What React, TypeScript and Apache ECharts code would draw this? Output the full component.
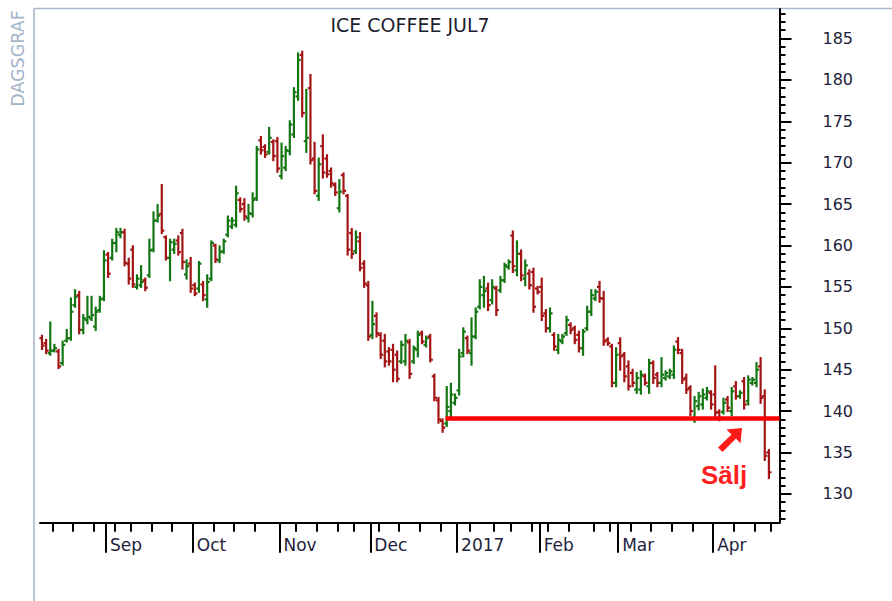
import React, { useEffect, useRef } from 'react';
import * as echarts from 'echarts';

// ---- Data (daily OHLC, ICE Coffee Jul7, Aug 2016 - Apr 2017) ----
const opens = [
  148.8, 148.2, 147.0, 147.3, 147.2, 145.8, 148.5, 148.8, 152.8, 154.0, 149.8, 151.0, 151.2, 150.2, 152.2, 153.6,
  158.9, 158.5, 160.3, 161.3, 161.6, 157.8, 159.5, 155.0, 155.2, 155.8, 156.4, 159.5, 163.0, 163.8, 161.0, 158.5, 159.5, 160.6, 161.5, 156.5, 157.8,
  155.2, 154.8, 155.3, 153.5, 156.0, 160.0, 158.2, 159.3, 161.3, 162.3, 162.5, 165.5, 165.0, 163.3, 163.8, 165.7, 172.7, 171.9, 171.3, 172.5, 172.6,
  168.4, 169.4, 171.4, 173.4, 178.0, 183.0, 172.6, 179.0, 170.5, 166.0, 172.0, 170.5, 169.0, 167.3, 164.5, 168.5, 166.0, 161.5, 159.3, 160.5, 157.8, 155.2,
  149.2, 151.5, 149.2, 148.5, 147.2, 147.4, 146.8, 146.0, 146.0, 148.3, 146.0, 147.4, 149.4, 148.0, 149.0, 144.2, 141.3, 138.8, 138.5, 140.0, 141.0,
  142.5, 147.0, 148.8, 147.0, 149.0, 152.6, 154.0, 154.8, 153.4, 154.8, 154.6, 155.8, 157.4, 161.2, 157.0, 159.0, 156.0, 156.6, 156.8, 154.8,
  155.0, 151.8, 150.0, 149.2, 147.4, 148.4, 149.4, 150.4, 150.0, 149.2, 147.6, 150.0, 152.0, 153.6, 155.0, 153.6, 148.6, 147.8, 143.4,
  148.2, 146.8, 145.4, 144.6, 142.6, 142.6, 144.2, 143.0, 145.8, 144.4, 143.4, 144.0, 144.2, 144.4, 148.4, 147.0, 144.0, 142.8, 139.2, 140.6, 140.8, 141.6, 142.2,
  142.0, 139.9, 139.9, 141.4, 140.0, 143.0, 141.8, 143.6, 141.2, 143.4, 143.4, 145.4, 141.8, 135.0,
];
const highs = [
  149.1, 148.6, 150.7, 148.0, 147.4, 148.4, 149.8, 153.6, 154.6, 154.4, 151.6, 153.8, 153.8, 152.5, 153.8, 159.3,
  159.1, 160.7, 162.0, 162.0, 161.9, 158.4, 159.9, 156.4, 157.5, 156.0, 160.7, 164.0, 164.9, 167.3, 161.1, 160.7, 160.7, 161.1, 161.9, 158.2, 158.5,
  155.4, 158.0, 155.6, 156.4, 160.5, 160.1, 159.9, 160.7, 163.5, 163.3, 167.1, 165.7, 165.6, 164.9, 166.3, 171.9, 173.1, 172.1, 174.2, 172.7, 173.0,
  172.3, 171.9, 175.0, 179.0, 183.2, 183.4, 178.8, 180.6, 172.4, 170.5, 173.3, 170.9, 169.3, 167.5, 167.9, 168.7, 166.1, 162.0, 161.7, 161.5, 158.1, 155.6,
  153.2, 151.8, 149.4, 149.2, 147.6, 148.0, 147.2, 148.4, 149.2, 148.6, 147.8, 149.6, 149.6, 149.0, 149.2, 144.4, 141.6, 139.0, 142.9, 143.3, 142.0,
  147.4, 150.0, 149.0, 151.2, 152.4, 155.8, 156.2, 155.4, 155.8, 155.0, 156.2, 157.8, 158.2, 161.7, 160.5, 159.4, 158.2, 157.0, 157.2, 155.0,
  156.0, 152.2, 152.4, 149.4, 149.2, 149.2, 151.4, 150.6, 150.2, 149.6, 149.8, 152.6, 154.6, 154.6, 155.6, 154.4, 148.8, 148.0, 147.6,
  148.8, 147.0, 146.0, 145.0, 144.6, 144.8, 144.4, 146.2, 146.0, 144.6, 146.4, 144.8, 145.0, 147.8, 148.8, 147.4, 144.4, 143.0, 141.7, 142.2, 142.6, 142.8, 142.4,
  145.4, 140.1, 141.5, 141.7, 142.8, 143.5, 142.4, 144.0, 144.2, 144.0, 145.8, 146.4, 142.5, 135.3,
];
const lows = [
  147.5, 147.0, 146.8, 147.2, 145.2, 145.6, 148.4, 148.6, 152.6, 149.4, 149.4, 150.6, 151.0, 149.8, 152.0, 153.4,
  156.2, 158.3, 159.3, 161.0, 157.6, 155.4, 155.0, 154.8, 155.0, 154.6, 156.2, 159.3, 162.9, 161.5, 158.3, 155.8, 159.1, 158.9, 157.2, 156.0, 154.4,
  154.0, 154.4, 153.4, 152.6, 155.8, 158.0, 158.0, 159.1, 161.1, 162.1, 162.3, 164.1, 163.1, 162.9, 163.5, 165.5, 171.1, 170.7, 171.1, 170.3, 168.9,
  168.1, 169.1, 171.0, 173.1, 177.6, 175.6, 171.3, 169.9, 166.3, 165.5, 168.2, 168.3, 167.1, 166.1, 164.1, 166.3, 158.9, 158.5, 159.1, 157.0, 155.0, 148.6,
  148.8, 149.0, 146.4, 145.4, 145.6, 143.6, 143.6, 145.8, 145.6, 144.0, 145.8, 146.6, 148.2, 147.8, 146.0, 141.3, 138.6, 137.5, 138.2, 139.2, 140.8,
  142.0, 146.6, 147.0, 145.6, 148.8, 152.4, 152.6, 152.2, 153.0, 151.6, 154.4, 155.6, 157.2, 156.8, 156.4, 155.8, 155.2, 154.8, 152.0, 154.2,
  151.0, 149.6, 149.6, 147.4, 147.0, 148.2, 149.2, 149.4, 148.2, 147.2, 146.8, 149.8, 151.6, 153.4, 153.2, 148.0, 148.0, 143.0, 143.0,
  145.0, 143.6, 142.6, 143.0, 142.2, 142.1, 143.2, 142.2, 143.4, 143.0, 143.0, 143.8, 144.0, 144.0, 147.0, 143.4, 142.2, 139.5, 138.7, 140.2, 140.3, 141.4, 140.3,
  139.3, 138.9, 139.7, 140.0, 139.5, 141.5, 141.6, 140.3, 140.8, 143.2, 143.0, 141.0, 134.1, 131.9,
];
const closes = [
  147.9, 147.3, 147.3, 147.6, 145.4, 148.0, 148.8, 152.0, 153.8, 149.8, 151.2, 151.4, 151.6, 152.0, 153.5, 158.2,
  156.6, 160.3, 161.6, 161.6, 157.9, 156.0, 155.3, 156.0, 155.6, 154.9, 159.4, 163.0, 163.6, 161.8, 158.5, 160.4, 160.2, 159.2, 158.0, 157.5, 154.8,
  154.2, 157.8, 154.0, 155.6, 160.3, 158.3, 159.2, 160.5, 163.0, 163.0, 166.3, 164.4, 163.5, 163.9, 165.5, 171.6, 171.5, 171.0, 173.0, 170.8, 169.3,
  170.8, 171.5, 174.6, 178.5, 182.4, 176.0, 173.0, 170.3, 166.6, 169.8, 168.8, 168.6, 167.5, 166.4, 166.5, 166.6, 159.5, 159.0, 161.0, 157.3, 155.4, 149.0,
  150.5, 149.4, 146.8, 146.0, 146.0, 145.0, 143.9, 148.0, 148.5, 144.5, 147.6, 149.2, 148.4, 148.8, 146.2, 141.6, 139.0, 138.0, 140.5, 142.0, 141.6,
  146.6, 149.6, 147.3, 149.0, 152.0, 155.0, 154.5, 152.8, 155.0, 152.2, 155.8, 157.6, 158.0, 157.5, 159.0, 156.4, 157.6, 155.2, 152.6, 154.4,
  151.5, 150.0, 151.8, 147.8, 148.6, 149.0, 151.0, 149.8, 148.6, 147.6, 149.6, 152.0, 154.0, 154.4, 153.6, 148.4, 148.2, 143.4, 146.8,
  146.6, 144.2, 143.0, 143.4, 144.0, 144.4, 143.4, 145.8, 144.0, 143.4, 144.4, 144.6, 144.8, 147.4, 147.4, 143.8, 142.6, 140.0, 141.2, 141.8, 142.0, 142.4, 140.8,
  139.8, 139.2, 141.0, 140.4, 142.4, 141.8, 142.2, 140.8, 143.8, 143.8, 145.0, 141.6, 134.6, 132.6,
];

// Calendar: bar index where each month / week starts
const monthStarts = [16, 37, 58, 80, 101, 121, 140, 163];
const monthLabels = ['Sep', 'Oct', 'Nov', 'Dec', '2017', 'Feb', 'Mar', 'Apr'];
const weekStarts = [3, 8, 13, 18, 22, 27, 32, 42, 47, 52, 62, 67, 72, 76, 82, 87, 92, 97, 104, 110, 114, 119, 123, 128, 134, 138, 143, 148, 153, 158, 168, 173, 177];

// Price axis ticks
const majorPriceTicks = [130, 135, 140, 145, 150, 155, 160, 165, 170, 175, 180, 185];
const minorPriceTicks = Array.from({ length: 62 }, (_, i) => 127 + i);

// Support level annotation
const supportLevel = 139.1;
const supportStartIndex = 97.7;

const titleText = 'ICE COFFEE JUL7';
const sideText = 'DAGSGRAF';
const signalText = 'Sälj';

const X_MIN = -0.484;
const X_MAX = 178.57;
const Y_MIN = 126.52;
const Y_MAX = 188.56;

const GREEN = '#137613';
const RED = '#a31414';
const AXIS_TEXT = '#1e1e3c';
const FONT = '"DejaVu Sans", Verdana, sans-serif';

export default function App() {
  const ref = useRef<HTMLDivElement>(null);

  useEffect(() => {
    if (!ref.current) return;
    const chart = echarts.init(ref.current, null, { renderer: 'svg' });
    const ohlc = opens.map((o, i) => [i, o, highs[i], lows[i], closes[i]]);
    const monthTickVals = monthStarts.map((s) => s - 0.5);
    const weekTickVals = weekStarts.map((s) => s - 0.5);

    const option: any = {
      animation: false,
      backgroundColor: '#ffffff',
      grid: { left: 40, top: 9, right: 112.5, bottom: 78.3, containLabel: false },
      xAxis: [
        {
          type: 'value',
          position: 'bottom',
          min: X_MIN,
          max: X_MAX,
          axisLine: { show: true, onZero: false, lineStyle: { color: '#000', width: 2 } },
          axisTick: { show: true, customValues: monthTickVals, length: 30, lineStyle: { color: '#000', width: 2 } },
          axisLabel: {
            show: true,
            customValues: monthTickVals,
            formatter: (v: number) => {
              const idx = monthTickVals.indexOf(v);
              return idx >= 0 ? monthLabels[idx] : '';
            },
            align: 'left',
            padding: [0, 0, 0, 4],
            margin: 14,
            fontSize: 17,
            fontFamily: FONT,
            color: AXIS_TEXT,
          },
          splitLine: { show: false },
        },
        {
          type: 'value',
          position: 'bottom',
          min: X_MIN,
          max: X_MAX,
          axisLine: { show: false, onZero: false },
          axisTick: { show: true, customValues: weekTickVals, length: 9, lineStyle: { color: '#000', width: 2 } },
          axisLabel: { show: false },
          splitLine: { show: false },
        },
      ],
      yAxis: [
        {
          type: 'value',
          position: 'right',
          min: Y_MIN,
          max: Y_MAX,
          axisLine: { show: true, onZero: false, lineStyle: { color: '#000', width: 2 } },
          axisTick: { show: true, customValues: majorPriceTicks, length: 12, lineStyle: { color: '#000', width: 2 } },
          axisLabel: {
            show: true,
            customValues: majorPriceTicks,
            margin: 43,
            fontSize: 16,
            fontFamily: FONT,
            color: AXIS_TEXT,
            align: 'left',
          },
          splitLine: { show: false },
        },
        {
          type: 'value',
          position: 'right',
          min: Y_MIN,
          max: Y_MAX,
          axisLine: { show: false, onZero: false },
          axisTick: { show: true, customValues: minorPriceTicks, length: 6, lineStyle: { color: '#000', width: 2 } },
          axisLabel: { show: false },
          splitLine: { show: false },
        },
      ],
      series: [
        {
          type: 'custom',
          xAxisIndex: 0,
          yAxisIndex: 0,
          z: 2,
          silent: true,
          data: ohlc,
          encode: { x: 0, y: [1, 2, 3, 4] },
          renderItem: (params: any, api: any) => {
            const x = api.value(0);
            const o = api.value(1);
            const h = api.value(2);
            const l = api.value(3);
            const c = api.value(4);
            const pH = api.coord([x, h]);
            const pL = api.coord([x, l]);
            const pO = api.coord([x, o]);
            const pC = api.coord([x, c]);
            const color = c >= o ? GREEN : RED;
            const st = { stroke: color, lineWidth: 2.2 };
            return {
              type: 'group',
              children: [
                { type: 'line', shape: { x1: pH[0], y1: pH[1] - 1, x2: pL[0], y2: pL[1] + 1 }, style: st },
                { type: 'line', shape: { x1: pO[0] - 2.6, y1: pO[1], x2: pO[0], y2: pO[1] }, style: st },
                { type: 'line', shape: { x1: pC[0], y1: pC[1], x2: pC[0] + 2.6, y2: pC[1] }, style: st },
              ],
            };
          },
        },
        {
          type: 'line',
          xAxisIndex: 0,
          yAxisIndex: 0,
          z: 3,
          silent: true,
          symbol: 'none',
          data: [
            [supportStartIndex, supportLevel],
            [X_MAX, supportLevel],
          ],
          lineStyle: { color: '#ff0000', width: 4.5 },
        },
      ],
      graphic: [
        { type: 'line', shape: { x1: 34, y1: 8.5, x2: 34, y2: 601 }, style: { stroke: '#a6b7ca', lineWidth: 1.6 }, silent: true },
        { type: 'line', shape: { x1: 34, y1: 8.5, x2: 892, y2: 8.5 }, style: { stroke: '#a6b7ca', lineWidth: 1.6 }, silent: true },
        {
          type: 'text',
          x: 17.5,
          y: 58.5,
          rotation: Math.PI / 2,
          silent: true,
          style: {
            text: sideText,
            fill: '#a2b4c8',
            font: '17.5px ' + FONT,
            align: 'center',
            verticalAlign: 'middle',
            textAlign: 'center',
            textVerticalAlign: 'middle',
          },
        },
        {
          type: 'text',
          x: 410,
          y: 25,
          silent: true,
          style: {
            text: titleText,
            fill: '#1e1e2e',
            font: '19px ' + FONT,
            align: 'center',
            verticalAlign: 'middle',
            textAlign: 'center',
            textVerticalAlign: 'middle',
          },
        },
        {
          type: 'polygon',
          silent: true,
          shape: {
            points: [
              [742, 428],
              [726.5, 429.5],
              [731.5, 434.5],
              [718, 447.5],
              [722.5, 452],
              [736, 438.5],
              [740.5, 443.5],
            ],
          },
          style: { fill: '#ff1a1a' },
        },
        {
          type: 'text',
          x: 724,
          y: 475,
          silent: true,
          style: {
            text: signalText,
            fill: '#ff1f1f',
            font: 'bold 26px "Liberation Sans", Arial, sans-serif',
            align: 'center',
            verticalAlign: 'middle',
            textAlign: 'center',
            textVerticalAlign: 'middle',
          },
        },
      ],
    };

    chart.setOption(option);
    return () => chart.dispose();
  }, []);

  return (
    <div
      ref={ref}
      style={{ position: 'fixed', left: 0, top: 0, width: 892, height: 601, background: '#fff' }}
    />
  );
}
